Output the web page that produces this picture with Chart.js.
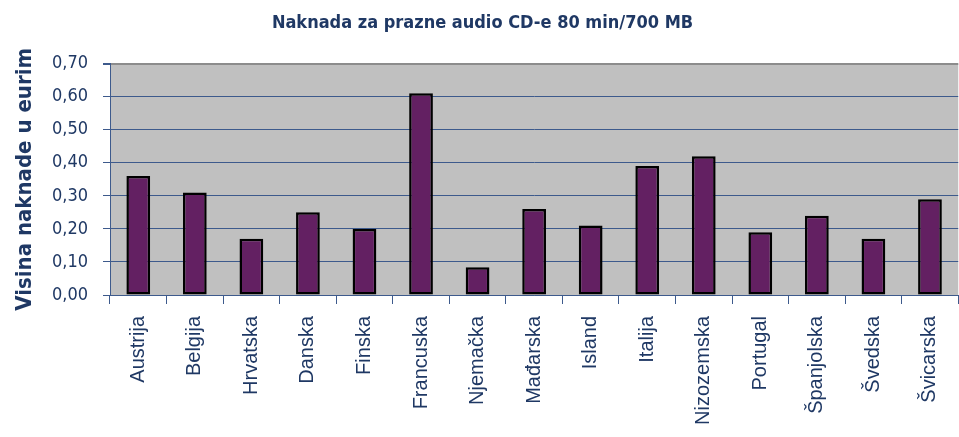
<!DOCTYPE html>
<html>
<head>
<meta charset="utf-8">
<script src="https://cdn.jsdelivr.net/npm/chart.js@4"></script>
<style>
  html, body { margin: 0; padding: 0; background: #fff; overflow: hidden; }
  #wrap { width: 959px; height: 437px; overflow: hidden; }
</style>
</head>
<body>
<div id="wrap"><canvas id="chart" width="966" height="437"></canvas></div>
<script>
const countries = ['Austrija', 'Belgija', 'Hrvatska', 'Danska', 'Finska', 'Francuska', 'Njemačka',
    'Mađarska', 'Island', 'Italija', 'Nizozemska', 'Portugal', 'Španjolska', 'Švedska', 'Švicarska'];
const fees = [0.36, 0.31, 0.17, 0.25, 0.20, 0.61, 0.084, 0.26, 0.21, 0.39, 0.42, 0.19, 0.24, 0.17, 0.29];
const yTicks = [0, 0.1, 0.2, 0.3, 0.4, 0.5, 0.6, 0.7];

const NAVY = '#1f3864';
const NARROW = "'Liberation Sans Narrow', 'Arial Narrow', 'DejaVu Sans Condensed', sans-serif";

// grey plot area
const plotBg = {
    id: 'plotBg',
    beforeDraw(chart) {
        const {ctx, chartArea: a} = chart;
        ctx.save();
        ctx.fillStyle = '#c0c0c0';
        ctx.fillRect(a.left, a.top, a.right - a.left, a.bottom - a.top);
        ctx.restore();
    }
};

new Chart(document.getElementById('chart'), {
    type: 'bar',
    data: {
        labels: countries,
        datasets: [{
            data: fees,
            backgroundColor: '#632062',
            borderColor: '#000000',
            borderWidth: 2.5,
            borderSkipped: false,
            barPercentage: 0.42,
            categoryPercentage: 1
        }]
    },
    options: {
        responsive: false,
        animation: false,
        layout: {padding: {left: 0, right: 1, top: 0, bottom: 0}},
        plugins: {
            legend: {display: false},
            tooltip: {enabled: false},
            title: {
                display: true,
                text: 'Naknada za prazne audio CD-e 80 min/700 MB',
                color: NAVY,
                font: {family: NARROW, size: 18, weight: 'bold'},
                padding: {top: 13, bottom: 29}
            }
        },
        scales: {
            x: {
                grid: {
                    display: true,
                    offset: true,
                    drawOnChartArea: false,
                    tickLength: 9,
                    color: '#3d5a8c'
                },
                border: {color: '#3d5a8c', width: 1},
                ticks: {
                    color: NAVY,
                    font: {family: "'Liberation Sans', Arial, sans-serif", size: 20},
                    minRotation: 90,
                    maxRotation: 90,
                    autoSkip: false,
                    padding: 12
                },
                afterFit: s => { s.height = 142; }
            },
            y: {
                min: 0,
                max: 0.7,
                afterBuildTicks: s => { s.ticks = yTicks.map(v => ({value: v})); },
                grid: {
                    color: c => c.tick && c.tick.value === 0.7 ? '#8c8c8c' : '#3d5a8c',
                    lineWidth: c => c.tick && c.tick.value === 0.7 ? 2 : 1,
                    tickLength: 7,
                    tickColor: '#3d5a8c'
                },
                border: {color: '#3d5a8c', width: 1},
                ticks: {
                    color: NAVY,
                    font: {family: NARROW, size: 18},
                    padding: 15,
                    callback: v => v.toFixed(2).replace('.', ',')
                },
                title: {
                    display: true,
                    text: 'Visina naknade u eurim',
                    color: NAVY,
                    font: {family: NARROW, size: 22, weight: 'bold'},
                    padding: {top: 12, bottom: 0}
                },
                afterFit: s => { s.width = 110; }
            }
        }
    },
    plugins: [plotBg]
});
</script>
</body>
</html>
